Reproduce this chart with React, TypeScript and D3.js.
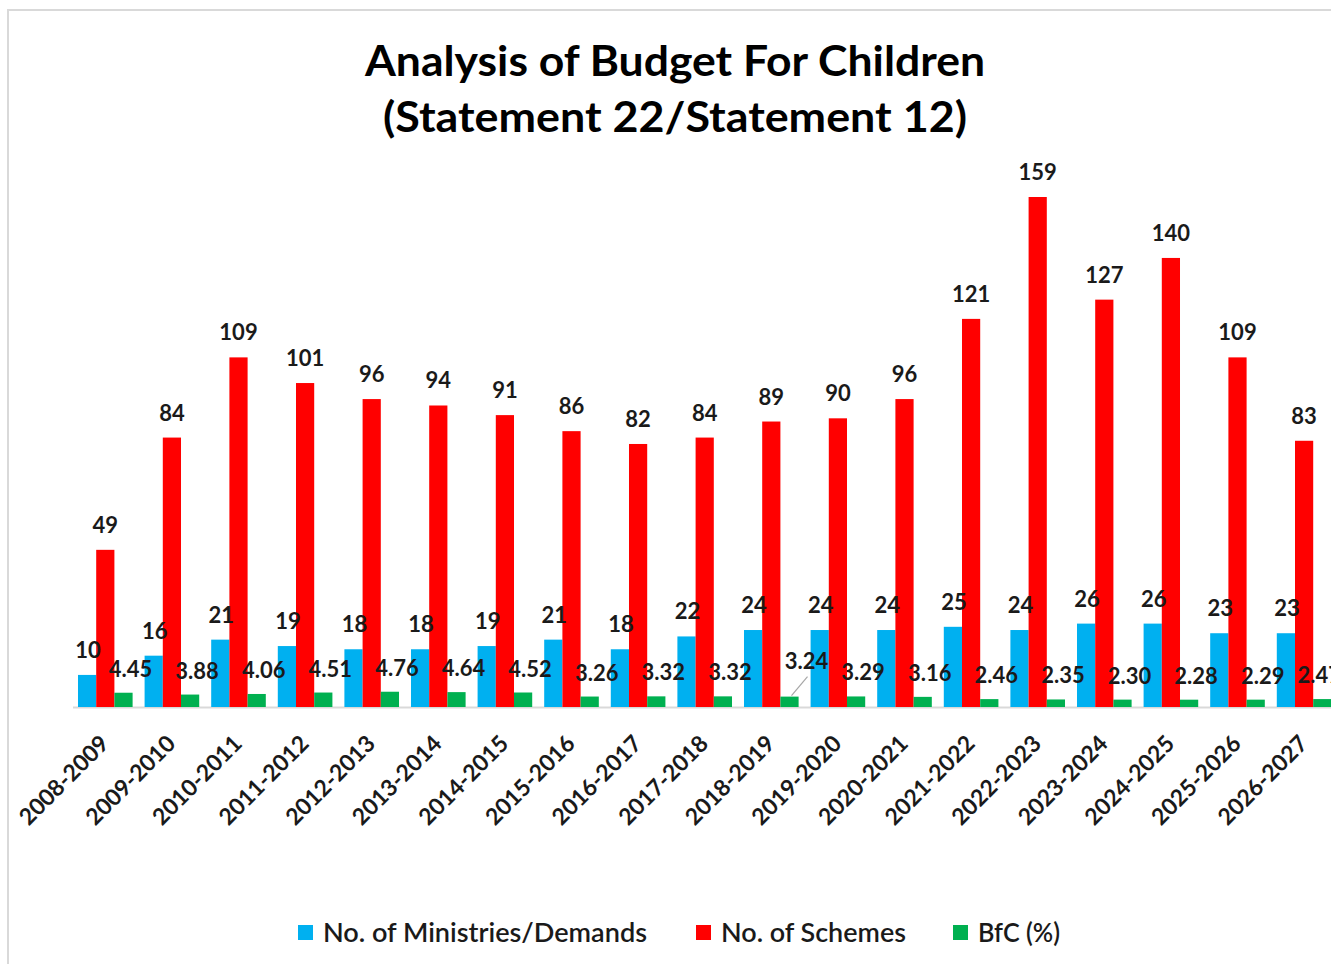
import React, { useEffect, useRef } from "react";
import * as d3 from "d3";

const categories = [
  "2008-2009", "2009-2010", "2010-2011", "2011-2012", "2012-2013", "2013-2014",
  "2014-2015", "2015-2016", "2016-2017", "2017-2018", "2018-2019", "2019-2020",
  "2020-2021", "2021-2022", "2022-2023", "2023-2024", "2024-2025", "2025-2026", "2026-2027",
];
const ministries = [10, 16, 21, 19, 18, 18, 19, 21, 18, 22, 24, 24, 24, 25, 24, 26, 26, 23, 23];
const schemes = [49, 84, 109, 101, 96, 94, 91, 86, 82, 84, 89, 90, 96, 121, 159, 127, 140, 109, 83];
const bfc = [4.45, 3.88, 4.06, 4.51, 4.76, 4.64, 4.52, 3.26, 3.32, 3.32, 3.24, 3.29, 3.16, 2.46, 2.35, 2.30, 2.28, 2.29, 2.47];
const bfcLabels = ["4.45", "3.88", "4.06", "4.51", "4.76", "4.64", "4.52", "3.26", "3.32", "3.32", "3.24", "3.29", "3.16", "2.46", "2.35", "2.30", "2.28", "2.29", "2.47"];
const seriesNames = ["No. of Ministries/Demands", "No. of Schemes", "BfC (%)"];
const titleLines = ["Analysis of Budget For Children", "(Statement 22/Statement 12)"];
const colors = ["#00B0F0", "#FF0000", "#00B050"];

const W = 1331;
const H = 964;
const FONT = "Lato, 'Open Sans', sans-serif";

export default function App() {
  const ref = useRef<SVGSVGElement | null>(null);

  useEffect(() => {
    document.body.style.margin = "0";
    document.body.style.overflow = "hidden";
    const svg = d3.select(ref.current);
    svg.selectAll("*").remove();

    const plotLeft = 72;
    const band = 66.6;
    const plotRight = plotLeft + band * categories.length;
    const baseY = 707;

    const x = d3.scaleBand<string>().domain(categories).range([plotLeft, plotRight]).paddingInner(0.18).paddingOuter(0.09);
    const x1 = d3.scaleBand<number>().domain([0, 1, 2]).range([0, x.bandwidth()]).padding(0);
    const y = d3.scaleLinear().domain([0, 159]).range([baseY, 197]);

    // frame
    svg.append("path").attr("d", `M8,${H} L8,10 L${W},10`).attr("fill", "none").attr("stroke", "#d9d9d9").attr("stroke-width", 2);

    // title
    const titleWidths = [620, 584];
    titleLines.forEach((t, i) => {
      svg.append("text")
        .attr("x", 675).attr("y", 76 + i * 56)
        .attr("font-family", FONT).attr("font-weight", 700).attr("font-size", 42)
        .attr("text-anchor", "middle").attr("fill", "#000")
        .attr("textLength", titleWidths[i]).attr("lengthAdjust", "spacingAndGlyphs")
        .text(t);
    });

    // axis line
    svg.append("line").attr("x1", 73).attr("x2", W).attr("y1", baseY + 0.5).attr("y2", baseY + 0.5).attr("stroke", "#d9d9d9").attr("stroke-width", 2);

    const series = [ministries, schemes, bfc];
    series.forEach((vals, si) => {
      svg.append("g").selectAll("rect").data(vals).join("rect")
        .attr("x", (_d, i) => (x(categories[i]) as number) + (x1(si) as number))
        .attr("width", x1.bandwidth())
        .attr("y", (d) => y(d))
        .attr("height", (d) => baseY - y(d))
        .attr("fill", colors[si]);
    });

    const labelStyle = (sel: any) => sel.attr("font-family", FONT).attr("font-weight", 700).attr("font-size", 22).attr("fill", "#1a1a1a").attr("text-anchor", "middle");

    // blue labels
    svg.append("g").selectAll("text").data(ministries).join("text").call(labelStyle)
      .attr("x", (_d, i) => (x(categories[i]) as number) + (x1(0) as number) + x1.bandwidth() / 2 + 1)
      .attr("y", (d) => y(d) - 17)
      .text((d) => String(d));
    // red labels
    svg.append("g").selectAll("text").data(schemes).join("text").call(labelStyle)
      .attr("x", (_d, i) => (x(categories[i]) as number) + (x1(1) as number) + x1.bandwidth() / 2)
      .attr("y", (d) => y(d) - 17)
      .text((d) => String(d));
    // green labels
    const leaderIdx = categories.indexOf("2018-2019");
    const lastIdx = categories.length - 1;
    svg.append("g").selectAll("text").data(bfc).join("text").call(labelStyle)
      .attr("x", (_d, i) => (x(categories[i]) as number) + (x1(2) as number) + x1.bandwidth() / 2 + (i === leaderIdx ? 17 : i === lastIdx ? -3 : 7))
      .attr("y", (d, i) => y(d) - 16 - (i === leaderIdx ? 12 : 0))
      .text((_d, i) => bfcLabels[i]);
    // leader line
    {
      const gx = (x(categories[leaderIdx]) as number) + (x1(2) as number) + x1.bandwidth() / 2;
      const gy = y(bfc[leaderIdx]);
      svg.append("line").attr("x1", gx + 2).attr("y1", gy - 1).attr("x2", gx + 18).attr("y2", gy - 20).attr("stroke", "#a6a6a6").attr("stroke-width", 1.2);
    }

    // tick labels
    svg.append("g").selectAll("text").data(categories).join("text")
      .attr("font-family", FONT).attr("font-weight", 700).attr("font-size", 23).attr("fill", "#1a1a1a")
      .attr("text-anchor", "end")
      .attr("transform", (d) => `translate(${(x(d) as number) + x.bandwidth() / 2 + 5},${baseY + 38}) rotate(-45)`)
      .text((d) => d);

    // legend
    const legendItems = [
      { name: seriesNames[0], color: colors[0], x: 298, w: 324 },
      { name: seriesNames[1], color: colors[1], x: 696, w: 185 },
      { name: seriesNames[2], color: colors[2], x: 953, w: 82 },
    ];
    const lg = svg.append("g");
    legendItems.forEach((it) => {
      lg.append("rect").attr("x", it.x).attr("y", 925).attr("width", 15).attr("height", 15).attr("fill", it.color);
      lg.append("text").attr("x", it.x + 25).attr("y", 942)
        .attr("font-family", FONT).attr("font-weight", 600).attr("font-size", 26).attr("fill", "#1a1a1a")
        .attr("textLength", it.w).attr("lengthAdjust", "spacingAndGlyphs")
        .text(it.name);
    });
  }, []);

  return <svg ref={ref} width={W} height={H} style={{ display: "block", background: "#fff" }} />;
}
